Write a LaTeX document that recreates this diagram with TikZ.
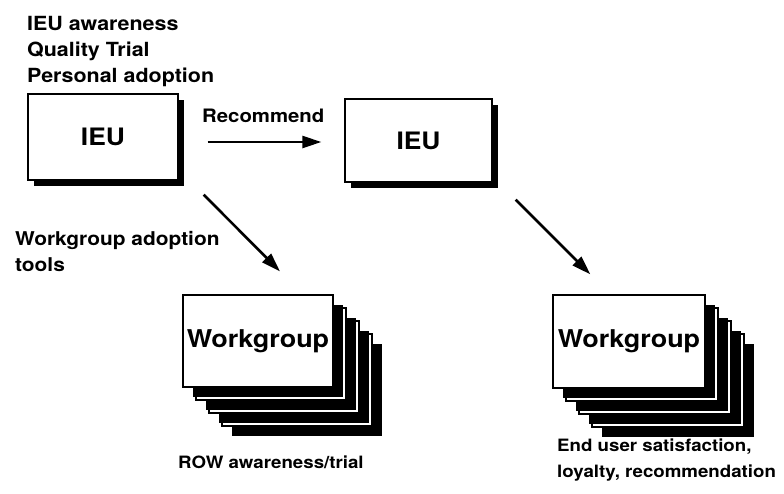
\documentclass[tikz,border=0pt]{standalone}
\usepackage{fontspec}
\setmainfont{TeX Gyre Heros}[FakeStretch=1.1]
\usetikzlibrary{positioning,arrows.meta,shadows}

\begin{document}
\begin{tikzpicture}[x=1pt,y=-1pt,font=\bfseries,
  arrow/.style={-{Triangle[length=19pt,width=12pt]},line width=2.6pt},
  box/.style={draw,line width=1.3pt,fill=white,inner sep=0pt,drop shadow={shadow xshift=#1,shadow yshift=-#1,fill=black,opacity=1}},
  box/.default=6pt,
  lbl/.style={inner sep=0pt,align=left,font=\bfseries\fontsize{#1}{26}\selectfont},
  lbl/.default=18]
\useasboundingbox (0,0) rectangle (784,493);
% individual end users
\node[box,minimum width=150,minimum height=86,font=\bfseries\fontsize{24}{28}\selectfont] (ieuL) at (103,137) {IEU};
\node[box,minimum width=147,minimum height=83,font=\bfseries\fontsize{24}{28}\selectfont] (ieuR) at (418.5,140.5) {IEU};
% workgroup stacks, back sheets first
\foreach \k in {3,2,1}{
  \node[box=10pt,minimum width=150,minimum height=92] (wgL\k) at ({258+13*\k},{341+13*\k}) {};
  \node[box=10pt,minimum width=152,minimum height=93] (wgR\k) at ({629+13*\k},{341.5+13*\k}) {};
}
\node[box=10pt,minimum width=150,minimum height=92,font=\bfseries\fontsize{24.5}{28}\selectfont] (wgL) at (258,341) {Workgroup};
\node[box=10pt,minimum width=152,minimum height=93,font=\bfseries\fontsize{24.5}{28}\selectfont] (wgR) at (629,341.5) {Workgroup};
% labels
\node[lbl=19.5,anchor=north west] (ieuNotes) at (27,16) {IEU awareness\\Quality Trial\\Personal adoption};
\node[lbl=18.5,anchor=base west] (recLbl) at (202,122) {Recommend};
\node[lbl=19,anchor=north west] (toolsLbl) at (15,231) {Workgroup adoption\\tools};
\node[lbl=17,anchor=base west] (rowLbl) at (178,468) {ROW awareness/trial};
\node[lbl=17,anchor=north west] (endLbl) at (557,439) {End user satisfaction,\\loyalty, recommendation};
% arrows
\draw[arrow,shorten <=29pt,shorten >=23pt] ([yshift=-5pt]ieuL.east) -- ([yshift=-5pt]ieuL.east -| ieuR.west);
\draw[arrow] ([shift={(25,14)}]ieuL.south east) -- ([shift={(22,-23)}]wgL.north);
\draw[arrow] ([shift={(23,17)}]ieuR.south east) -- ([shift={(38,-20)}]wgR.north west);
\end{tikzpicture}
\end{document}
